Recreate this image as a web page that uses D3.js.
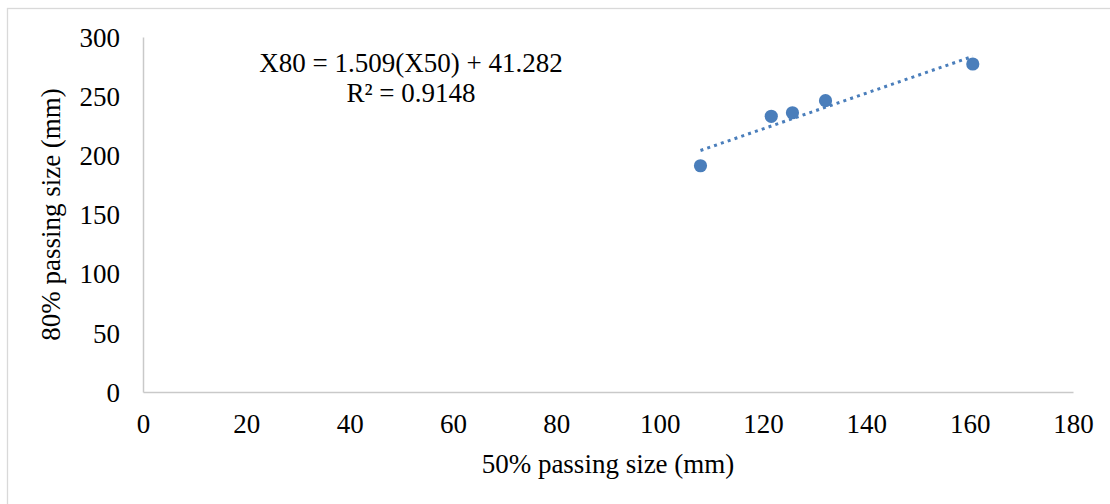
<!DOCTYPE html>
<html>
<head>
<meta charset="utf-8">
<script src="https://cdn.jsdelivr.net/npm/d3@7"></script>
<style>
  html, body { margin: 0; padding: 0; background: #fff; }
  svg { display: block; }
  text { font-family: "Liberation Serif", "Times New Roman", serif; fill: #000; }
</style>
</head>
<body>
<svg id="chart" width="1110" height="504"></svg>
<script>
// Data
const x50 = [107.9, 121.6, 125.7, 132.1, 160.6];
const x80 = [191.2, 233.0, 236.0, 246.2, 277.2];
const trendSlope = 1.509;
const trendIntercept = 41.282;
const xTicks = [0, 20, 40, 60, 80, 100, 120, 140, 160, 180];
const yTicks = [0, 50, 100, 150, 200, 250, 300];
const xTitle = "50% passing size (mm)";
const yTitle = "80% passing size (mm)";
const eqLine1 = "X80 = 1.509(X50) + 41.282";
const eqLine2 = "R² = 0.9148";

const svg = d3.select("#chart");
const plot = { left: 143, right: 1073, top: 37, bottom: 392 };
const blue = "#4a7ebb";
const axisGray = "#c9c9c9";
const fontSize = 27;

// chart frame border
svg.append("rect")
  .attr("x", 7.5).attr("y", 8.5)
  .attr("width", 1200).attr("height", 600)
  .attr("fill", "none").attr("stroke", "#d9d9d9").attr("stroke-width", 1.3);

const x = d3.scaleLinear().domain([0, 180]).range([plot.left, plot.right]);
const y = d3.scaleLinear().domain([0, 300]).range([plot.bottom, plot.top]);

// x axis
const xAxis = svg.append("g")
  .attr("transform", `translate(0,${plot.bottom})`)
  .call(d3.axisBottom(x).tickValues(xTicks).tickSize(0).tickPadding(0).tickFormat(d3.format("d")));
xAxis.select(".domain").attr("stroke", axisGray).attr("stroke-width", 1.5);
xAxis.selectAll("text")
  .attr("y", 41).attr("dy", null)
  .style("font-family", '"Liberation Serif", serif')
  .style("font-size", fontSize + "px").attr("fill", "#000");

// y axis
const yAxis = svg.append("g")
  .attr("transform", `translate(${plot.left},0)`)
  .call(d3.axisLeft(y).tickValues(yTicks).tickSize(0).tickPadding(0).tickFormat(d3.format("d")));
yAxis.select(".domain").attr("stroke", axisGray).attr("stroke-width", 1.5);
yAxis.selectAll("text")
  .attr("x", -23).attr("dy", "0.34em")
  .style("font-family", '"Liberation Serif", serif')
  .style("font-size", fontSize + "px").attr("fill", "#000");

// trendline
const xExt = d3.extent(x50);
const trendPts = xExt.map(v => [v, trendSlope * v + trendIntercept]);
svg.append("path")
  .datum(trendPts)
  .attr("d", d3.line().x(d => x(d[0])).y(d => y(d[1])))
  .attr("fill", "none")
  .attr("stroke", blue)
  .attr("stroke-width", 3)
  .attr("stroke-dasharray", "3,4.2");

// points
svg.append("g").selectAll("circle")
  .data(x50.map((v, i) => [v, x80[i]]))
  .join("circle")
  .attr("cx", d => x(d[0]))
  .attr("cy", d => y(d[1]))
  .attr("r", 6.6)
  .attr("fill", blue);

// equation label
const eq = svg.append("text")
  .attr("text-anchor", "middle")
  .style("font-size", fontSize + "px");
eq.append("tspan").attr("x", 411).attr("y", 72).text(eqLine1);
eq.append("tspan").attr("x", 411).attr("y", 102).text(eqLine2);

// axis titles
svg.append("text")
  .attr("x", (plot.left + plot.right) / 2)
  .attr("y", 473)
  .attr("text-anchor", "middle")
  .style("font-size", fontSize + "px")
  .text(xTitle);

svg.append("text")
  .attr("transform", `translate(60,${(plot.top + plot.bottom) / 2}) rotate(-90)`)
  .attr("text-anchor", "middle")
  .style("font-size", fontSize + "px")
  .text(yTitle);
</script>
</body>
</html>
